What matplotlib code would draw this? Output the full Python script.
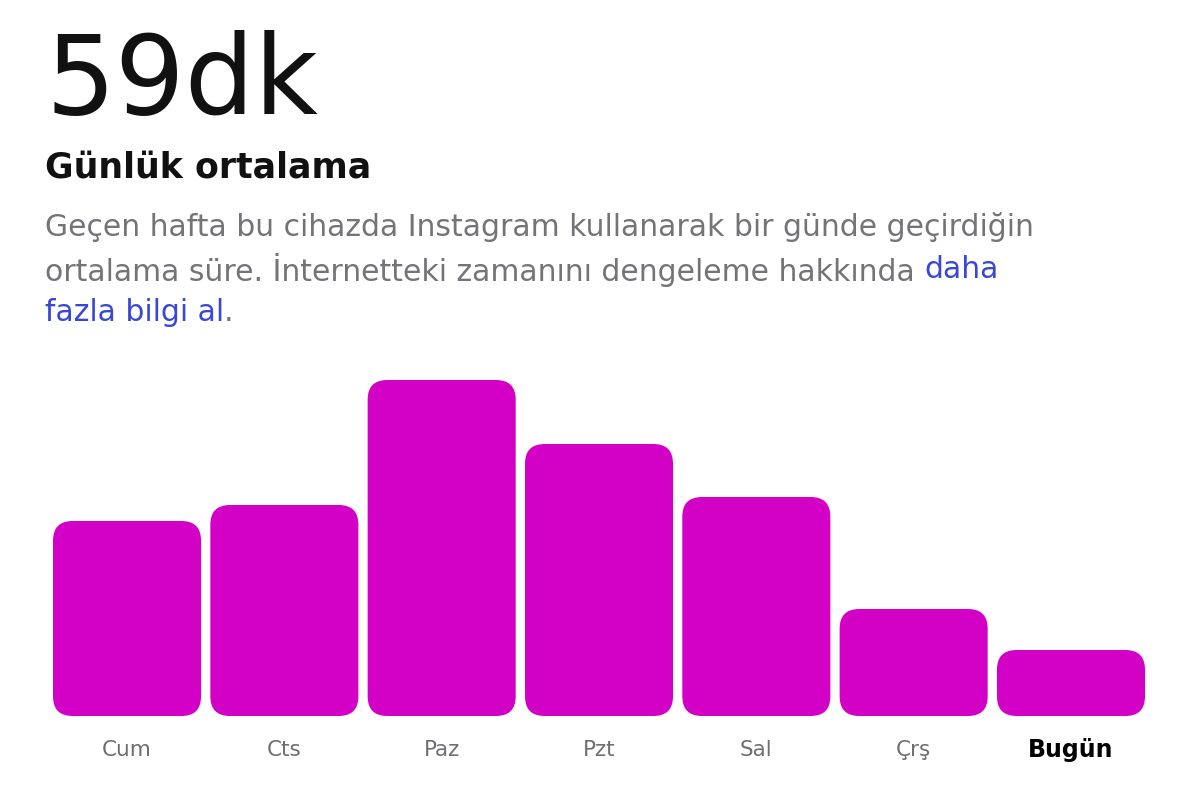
import matplotlib
matplotlib.use("Agg")
import matplotlib.pyplot as plt
from matplotlib.patches import FancyBboxPatch

days = ["Cum", "Cts", "Paz", "Pzt", "Sal", "Çrş", "Bugün"]
minutes = [195, 211, 336, 272, 219, 107, 66]

W, H = 1200, 803
fig = plt.figure(figsize=(12, 8.03), dpi=100)
fig.patch.set_facecolor("white")
ax = fig.add_axes([53/W, (H-717)/H, 1092/W, 336/H])
ax.set_xlim(-0.4705, 6.4705)
ax.set_ylim(0, 336)
ax.axis("off")
bars = ax.bar(range(len(days)), minutes, width=0.941, color="none")
color = "#D300C5"
for b in bars:
    x, y, w, h = b.get_x(), b.get_y(), b.get_width(), b.get_height()
    r = 0.125
    p = FancyBboxPatch((x + r, y + r*157), w - 2*r, h - 2*r*157,
                       boxstyle=f"round,pad={r}", mutation_aspect=157,
                       fc=color, ec="none")
    ax.add_patch(p)
for i, d in enumerate(days):
    bold = d == "Bugün"
    ax.text(i, -33, d, ha="center", va="center", transform=ax.transData,
            fontsize=17 if bold else 15.5, fontweight="bold" if bold else "normal",
            color="#000000" if bold else "#6e6e73", clip_on=False)

def fx(px): return px / W
def fy(py): return 1 - py / H
fig.text(fx(45), fy(83), "59dk", fontsize=79, va="center", color="#111111")
fig.text(fx(45), fy(168), "Günlük ortalama", fontsize=25, fontweight="bold", va="center", color="#111111")
gray = "#73737a"
fs = 21.5
fig.text(fx(45), fy(227), "Geçen hafta bu cihazda Instagram kullanarak bir günde geçirdiğin", fontsize=fs, va="center", color=gray)
t2 = fig.text(fx(45), fy(270), "ortalama süre. İnternetteki zamanını dengeleme hakkında ", fontsize=fs, va="center", color=gray)
fig.canvas.draw()
bb = t2.get_window_extent()
fig.text(bb.x1 / W, fy(270), "daha", fontsize=fs, va="center", color="#3847d6")
t3 = fig.text(fx(45), fy(313), "fazla bilgi al", fontsize=fs, va="center", color="#3847d6")
fig.canvas.draw()
bb3 = t3.get_window_extent()
fig.text(bb3.x1 / W, fy(313), ".", fontsize=fs, va="center", color=gray)
fig.savefig("out.png", dpi=100)
